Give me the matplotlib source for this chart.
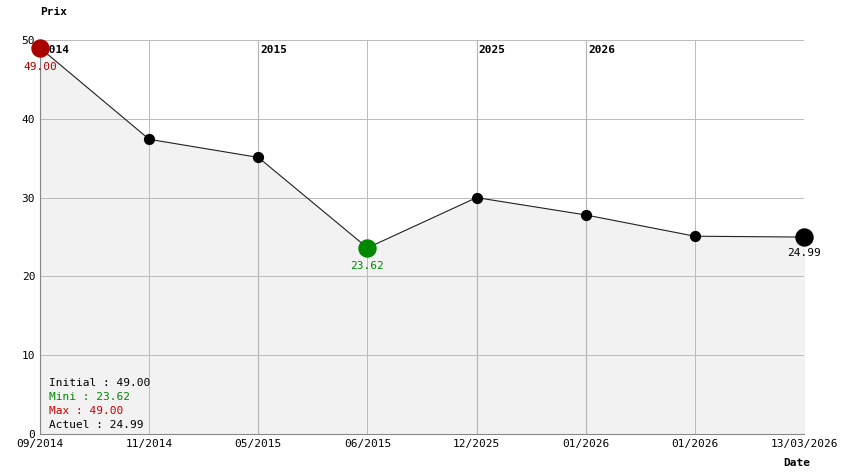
import matplotlib
matplotlib.use("Agg")
import matplotlib.pyplot as plt

dates = ["09/2014","11/2014","05/2015","06/2015","12/2025","01/2026","01/2026","13/03/2026"]
prices = [49.00, 37.4, 35.1, 23.62, 30.0, 27.8, 25.1, 24.99]
years = {0:"2014", 2:"2015", 4:"2025", 5:"2026"}

plt.rcParams['font.family'] = ['DejaVu Sans Mono']
fig = plt.figure(figsize=(8.44,4.74), dpi=100)
ax = fig.add_axes([40/844, 40/474, 764/844, 394/474])
x = list(range(len(prices)))
ax.fill_between(x, prices, 0, color='#f2f2f2', zorder=0)
ax.plot(x, prices, color='#222222', lw=0.8, zorder=2)
ax.scatter(x[1:-1], prices[1:-1], s=50, color='black', zorder=3)
ax.scatter([0],[prices[0]], s=150, color='#aa0000', zorder=4, clip_on=False)
ax.scatter([3],[prices[3]], s=150, color='#008800', zorder=4)
ax.scatter([7],[prices[7]], s=150, color='black', zorder=4, clip_on=False)
ax.set_xlim(0,7); ax.set_ylim(0,50)
ax.set_xticks(x); ax.set_xticklabels(dates, fontsize=8)
ax.set_yticks(range(0,51,10)); ax.tick_params(labelsize=8, length=0)
ax.grid(True, color='#bbbbbb', lw=0.7)
for i,y in years.items():
    ax.axvline(i, color='#666666', lw=0.8, zorder=1)
    ax.text(i+0.02, 48.7, y, fontsize=8, fontweight='bold', va='center')
for s in ax.spines.values(): s.set_visible(False)
ax.spines['left'].set_visible(True); ax.spines['left'].set_color('#888888')
ax.spines['bottom'].set_visible(True); ax.spines['bottom'].set_color('#888888')
ax.text(0, 46.6, "49.00", color='#aa0000', fontsize=8, ha='center', va='center')
ax.text(3, 21.3, "23.62", color='#008800', fontsize=8, ha='center', va='center')
ax.text(7, 23.0, "24.99", color='black', fontsize=8, ha='center', va='center')
ax.text(0.08, 6.1, "Initial : 49.00", fontsize=8)
ax.text(0.08, 4.3, "Mini : 23.62", fontsize=8, color='#008800')
ax.text(0.08, 2.5, "Max : 49.00", fontsize=8, color='#cc0000')
ax.text(0.08, 0.7, "Actuel : 24.99", fontsize=8)
fig.text(40/844, 1-12/474, "Prix", fontsize=8, fontweight='bold', va='center')
fig.text(783/844, 1-463/474, "Date", fontsize=8, fontweight='bold', va='center')
fig.savefig("out.png", dpi=100)
